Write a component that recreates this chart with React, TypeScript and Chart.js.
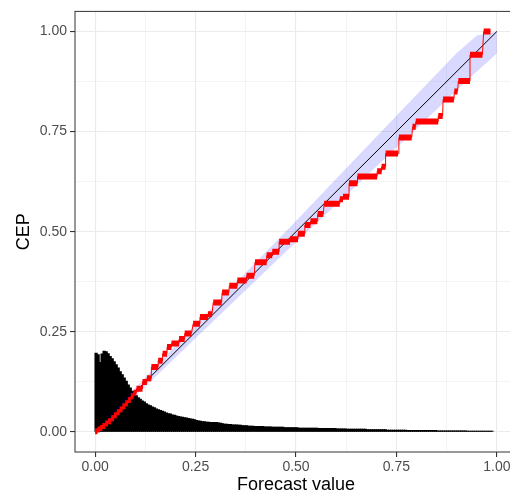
import React, { useEffect, useRef } from "react";
import { Chart, registerables } from "chart.js";

Chart.register(...registerables);

// Histogram of forecast values (bin width 0.005, starting at 0)
const histBinWidth = 0.005;
const histHeights = [
  // 0.00 - 0.10
  0.197, 0.193, 0.174, 0.195, 0.202, 0.201, 0.196, 0.189, 0.183, 0.176,
  0.168, 0.16, 0.151, 0.143, 0.135, 0.127, 0.118, 0.11, 0.102, 0.096,
  // 0.10 - 0.20
  0.091, 0.086, 0.082, 0.078, 0.075, 0.071, 0.068, 0.066, 0.063, 0.061,
  0.058, 0.056, 0.054, 0.052, 0.05, 0.048, 0.046, 0.045, 0.043, 0.042,
  // 0.20 - 0.30
  0.04, 0.039, 0.038, 0.037, 0.036, 0.035, 0.034, 0.033, 0.032, 0.031,
  0.029, 0.028, 0.027, 0.026, 0.026, 0.025, 0.025, 0.024, 0.024, 0.024,
  // 0.30 - 0.40
  0.024, 0.023, 0.022, 0.021, 0.02, 0.02, 0.019, 0.019, 0.018, 0.018,
  0.018, 0.017, 0.017, 0.016, 0.016, 0.016, 0.015, 0.015, 0.015, 0.014,
  // 0.40 - 0.50
  0.014, 0.014, 0.014, 0.014, 0.013, 0.013, 0.013, 0.013, 0.012, 0.012,
  0.012, 0.012, 0.012, 0.012, 0.011, 0.011, 0.011, 0.011, 0.011, 0.011,
  // 0.50 - 0.60
  0.011, 0.01, 0.01, 0.01, 0.01, 0.01, 0.01, 0.01, 0.01, 0.01,
  0.01, 0.009, 0.009, 0.009, 0.009, 0.009, 0.009, 0.009, 0.009, 0.009,
  // 0.60 - 0.70
  0.008, 0.008, 0.008, 0.008, 0.008, 0.007, 0.007, 0.007, 0.007, 0.007,
  0.007, 0.007, 0.007, 0.007, 0.007, 0.006, 0.006, 0.006, 0.006, 0.006,
  // 0.70 - 0.80
  0.006, 0.006, 0.006, 0.006, 0.006, 0.005, 0.005, 0.005, 0.005, 0.005,
  0.005, 0.005, 0.005, 0.005, 0.005, 0.004, 0.004, 0.004, 0.004, 0.004,
  // 0.80 - 0.90
  0.004, 0.004, 0.004, 0.004, 0.004, 0.004, 0.004, 0.004, 0.004, 0.004,
  0.003, 0.003, 0.003, 0.003, 0.003, 0.003, 0.003, 0.003, 0.003, 0.003,
  // 0.90 - 0.99
  0.003, 0.003, 0.003, 0.003, 0.003, 0.002, 0.002, 0.002, 0.002, 0.002,
  0.002, 0.002, 0.002, 0.002, 0.002, 0.002, 0.002, 0.002,
];

// CEP (isotonic step function): constant pieces
const cepStart = [
  0.0, 0.006, 0.012, 0.018, 0.025, 0.032, 0.04, 0.047, 0.054, 0.061,
  0.068, 0.075, 0.082, 0.089, 0.096, 0.103, 0.118, 0.129, 0.14, 0.157,
  0.168, 0.179, 0.19, 0.209, 0.223, 0.244, 0.261, 0.281, 0.294, 0.316,
  0.334, 0.354, 0.377, 0.398, 0.427, 0.441, 0.458, 0.485, 0.505, 0.522,
  0.536, 0.554, 0.57, 0.609, 0.617, 0.632, 0.653, 0.702, 0.713, 0.723,
  0.756, 0.79, 0.798, 0.854, 0.866, 0.894, 0.904, 0.933, 0.967,
];
const cepEnd = [
  0.006, 0.012, 0.018, 0.025, 0.032, 0.04, 0.047, 0.054, 0.061, 0.068,
  0.075, 0.082, 0.089, 0.096, 0.103, 0.118, 0.129, 0.14, 0.157, 0.168,
  0.179, 0.19, 0.209, 0.223, 0.24, 0.261, 0.281, 0.291, 0.315, 0.333,
  0.354, 0.377, 0.396, 0.427, 0.441, 0.458, 0.485, 0.505, 0.522, 0.536,
  0.553, 0.568, 0.609, 0.617, 0.632, 0.653, 0.702, 0.713, 0.723, 0.754,
  0.788, 0.798, 0.854, 0.865, 0.893, 0.902, 0.933, 0.964, 0.984,
];
const cepValue = [
  0.002, 0.006, 0.01, 0.015, 0.021, 0.027, 0.034, 0.042, 0.049, 0.056,
  0.064, 0.072, 0.08, 0.089, 0.098, 0.108, 0.125, 0.134, 0.162, 0.178,
  0.195, 0.212, 0.221, 0.232, 0.246, 0.27, 0.287, 0.294, 0.323, 0.348,
  0.365, 0.378, 0.39, 0.424, 0.441, 0.45, 0.475, 0.481, 0.495, 0.517,
  0.526, 0.544, 0.57, 0.581, 0.587, 0.621, 0.638, 0.651, 0.662, 0.695,
  0.735, 0.762, 0.775, 0.789, 0.83, 0.85, 0.876, 0.942, 1.0,
];

// Consistency band
const bandX = [0, 0.05, 0.1, 0.2, 0.3, 0.4, 0.5, 0.6, 0.7, 0.8, 0.9, 0.95, 1.0];
const bandUpper = [0.003, 0.056, 0.11, 0.216, 0.32, 0.424, 0.527, 0.632, 0.737, 0.842, 0.946, 0.99, 1.0];
const bandLower = [0.0, 0.045, 0.09, 0.186, 0.282, 0.378, 0.474, 0.567, 0.663, 0.757, 0.853, 0.9, 0.945];

// Diagonal reference line
const diagX = [0, 1];
const diagY = [0, 1];

// Axis ticks
const majorTicks = [0, 0.25, 0.5, 0.75, 1];
const majorLabels = ["0.00", "0.25", "0.50", "0.75", "1.00"];
const minorTicks = [0.125, 0.375, 0.625, 0.875];

const xTitle = "Forecast value";
const yTitle = "CEP";

const isMajor = (v: number) => majorTicks.some((m) => Math.abs(m - v) < 1e-9);

const panelBorder = {
  id: "panelBorder",
  afterDatasetsDraw(chart: any) {
    const { ctx, chartArea } = chart;
    const { left, top, right, bottom } = chartArea;
    ctx.save();
    ctx.strokeStyle = "#333333";
    ctx.lineWidth = 1;
    ctx.strokeRect(left, top, right - left, bottom - top);
    ctx.restore();
  },
};

export default function App() {
  const ref = useRef<HTMLCanvasElement | null>(null);

  useEffect(() => {
    if (!ref.current) return;
    Chart.defaults.font.family = "'Liberation Sans', Arial, sans-serif";

    // histogram bars centred in each bin
    const histPts = histHeights.map((h, i) => ({ x: (i + 0.5) * histBinWidth, y: h }));

    const segPts: { x: number; y: number | null }[] = [];
    const linePts: { x: number; y: number }[] = [];
    cepValue.forEach((v, i) => {
      segPts.push({ x: cepStart[i], y: v });
      segPts.push({ x: cepEnd[i], y: v });
      segPts.push({ x: (cepEnd[i] + (cepStart[i + 1] ?? cepEnd[i])) / 2, y: null });
      linePts.push({ x: cepStart[i], y: v });
      linePts.push({ x: cepEnd[i], y: v });
    });

    const allTicks = [...majorTicks, ...minorTicks].sort((a, b) => a - b);
    const labelFor = (v: number) => {
      const idx = majorTicks.findIndex((m) => Math.abs(m - v) < 1e-9);
      return idx >= 0 ? majorLabels[idx] : "";
    };

    const gridOpts = {
      color: "#EBEBEB",
      offset: false,
      lineWidth: (c: any) => (c.tick && isMajor(c.tick.value) ? 1.1 : 0.55),
      tickColor: (c: any) => (c.tick && isMajor(c.tick.value) ? "#333333" : "rgba(0,0,0,0)"),
      tickLength: 5,
      tickWidth: 1.1,
      drawTicks: true,
    };

    const chart = new Chart(ref.current, {
      type: "line",
      data: {
        datasets: [
          {
            label: "CEP segments",
            data: segPts as any,
            borderColor: "#FF0000",
            borderWidth: 6,
            borderCapStyle: "butt",
            pointRadius: 0,
            spanGaps: false,
            fill: false,
            order: 1,
          },
          {
            label: "CEP line",
            data: linePts as any,
            borderColor: "#FF0000",
            borderWidth: 1,
            pointRadius: 0,
            fill: false,
            order: 2,
          },
          {
            label: "Diagonal",
            data: diagX.map((x, i) => ({ x, y: diagY[i] })) as any,
            borderColor: "#000000",
            borderWidth: 1,
            pointRadius: 0,
            fill: false,
            order: 3,
          },
          {
            label: "Band upper",
            data: bandX.map((x, i) => ({ x, y: bandUpper[i] })) as any,
            borderColor: "rgba(0,0,0,0)",
            borderWidth: 0,
            backgroundColor: "rgba(0,0,255,0.15)",
            pointRadius: 0,
            fill: "+1",
            order: 4,
          },
          {
            label: "Band lower",
            data: bandX.map((x, i) => ({ x, y: bandLower[i] })) as any,
            borderColor: "rgba(0,0,0,0)",
            borderWidth: 0,
            pointRadius: 0,
            fill: false,
            order: 5,
          },
          {
            type: "bar",
            label: "Histogram",
            data: histPts as any,
            backgroundColor: "#000000",
            borderWidth: 0,
            barThickness: 2.6,
            order: 6,
          } as any,
        ],
      },
      options: {
        animation: false,
        responsive: false,
        devicePixelRatio: 1,
        layout: { padding: { top: 10, right: 6, left: 0, bottom: 0 } },
        plugins: {
          legend: { display: false },
          tooltip: { enabled: false },
        },
        scales: {
          x: {
            type: "linear",
            min: -0.05,
            max: 1.05,
            offset: false,
            afterBuildTicks: (s: any) => {
              s.ticks = allTicks.map((v) => ({ value: v }));
            },
            afterFit: (s: any) => {
              s.height = 42;
            },
            ticks: {
              autoSkip: false,
              maxRotation: 0,
              padding: 2,
              color: "#4D4D4D",
              font: { size: 14 },
              callback: (v: any) => labelFor(Number(v)),
            },
            grid: gridOpts as any,
            border: { display: false },
            title: {
              display: true,
              text: xTitle,
              color: "#000000",
              font: { size: 18, lineHeight: 1 },
              padding: { top: 0, bottom: 0 },
            },
          },
          y: {
            type: "linear",
            min: -0.05,
            max: 1.05,
            afterBuildTicks: (s: any) => {
              s.ticks = allTicks.map((v) => ({ value: v }));
            },
            afterFit: (s: any) => {
              s.width = 75;
            },
            ticks: {
              autoSkip: false,
              padding: 3,
              color: "#4D4D4D",
              font: { size: 14 },
              callback: (v: any) => labelFor(Number(v)),
            },
            grid: gridOpts as any,
            border: { display: false },
            title: {
              display: true,
              text: yTitle,
              color: "#000000",
              font: { size: 18, lineHeight: 1 },
              padding: { top: 15, bottom: 0 },
            },
          },
        },
      },
      plugins: [panelBorder],
    });

    return () => chart.destroy();
  }, []);

  return (
    <div
      style={{
        position: "fixed",
        left: 0,
        top: 0,
        width: 510,
        height: 494,
        overflow: "hidden",
        background: "#FFFFFF",
      }}
    >
      <canvas ref={ref} width={523} height={494} style={{ display: "block", width: 523, height: 494 }} />
    </div>
  );
}
